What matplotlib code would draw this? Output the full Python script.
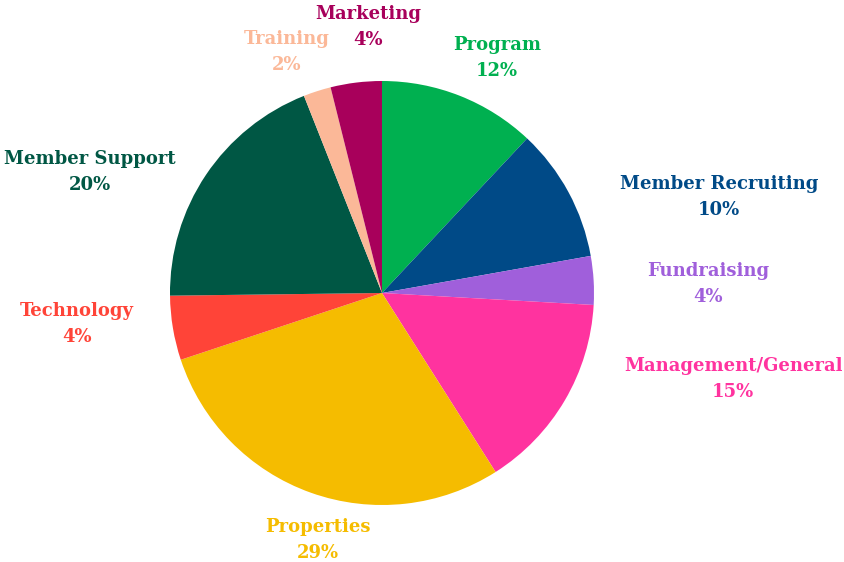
import matplotlib.pyplot as plt

categories = ["Program", "Member Recruiting", "Fundraising", "Management/General",
              "Properties", "Technology", "Member Support", "Training", "Marketing"]
# slice sizes
shares = [12.0, 10.2, 3.7, 15.1, 28.9, 4.9, 19.2, 2.1, 3.9]
# percentages printed in the labels
shown_pct = [12, 10, 4, 15, 29, 4, 20, 2, 4]
colors = ["#00B050", "#004A87", "#A05FDB", "#FF339F", "#F5BC00",
          "#FF4438", "#005744", "#FBB898", "#A8005B"]

# label block centres, in pie-radius units
label_pos = [(0.542, 1.108), (1.590, 0.453), (1.538, 0.042), (1.656, -0.406),
             (-0.302, -1.165), (-1.439, -0.146), (-1.377, 0.571),
             (-0.448, 1.137), (-0.066, 1.255)]

fig = plt.figure(figsize=(8.44, 5.62), dpi=100)
ax = fig.add_axes([0, 0, 1, 1])
ax.pie(shares, colors=colors, startangle=90, counterclock=False, radius=1.0,
       wedgeprops=dict(linewidth=0))
ax.set_xlim(-382 / 212, 462 / 212)
ax.set_ylim(-269 / 212, 293 / 212)
ax.set_aspect("auto")
ax.axis("off")

for name, val, col, (x, y) in zip(categories, shown_pct, colors, label_pos):
    ax.text(x, y, f"{name}\n{val}%", color=col, ha="center", va="center",
            multialignment="center", fontsize=13, fontweight="bold",
            family="DejaVu Serif", linespacing=1.55)

fig.savefig("out.png", dpi=100)
